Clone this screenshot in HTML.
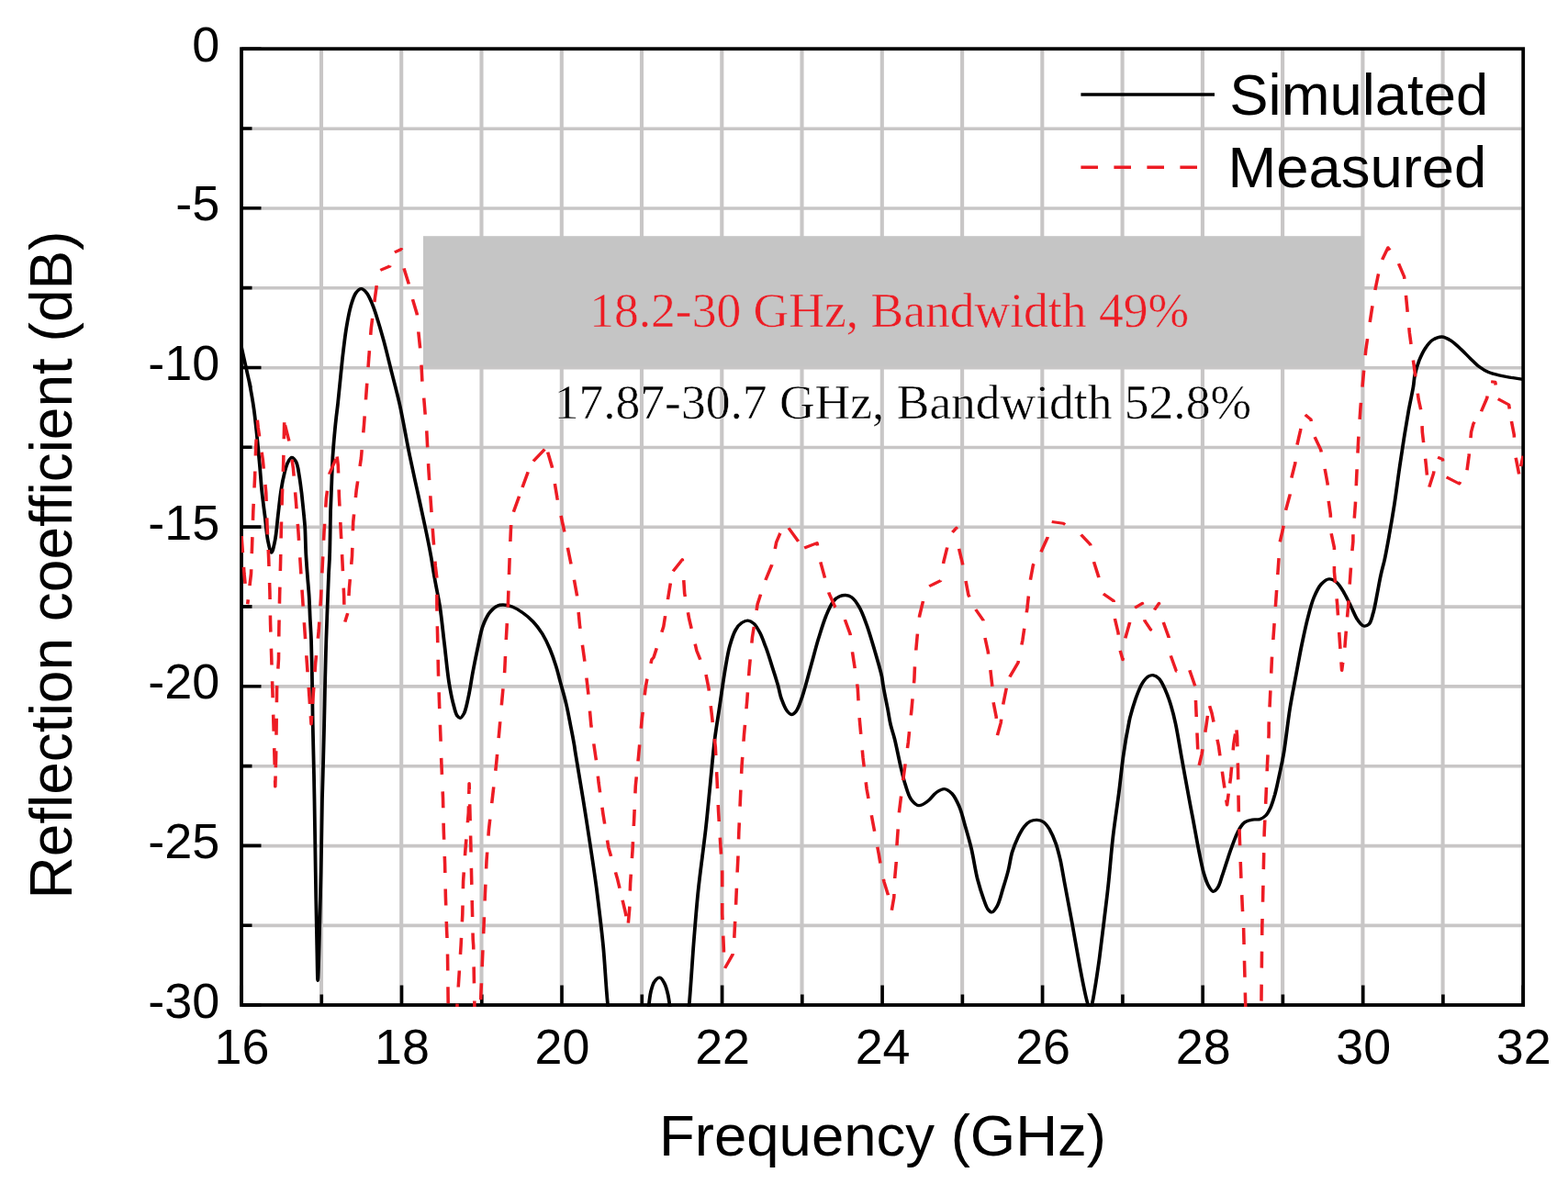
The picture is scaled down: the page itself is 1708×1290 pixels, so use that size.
<!DOCTYPE html>
<html lang="en"><head><meta charset="utf-8"><title>Reflection coefficient</title>
<style>html,body{margin:0;padding:0;background:#fff}body{width:1708px;height:1290px;overflow:hidden}svg{display:block}.s{font-family:"Liberation Sans",sans-serif;fill:#000}.t{font-family:"Liberation Serif",serif}</style></head><body>
<svg width="1708" height="1290" viewBox="0 0 1708 1290">
<rect width="1708" height="1290" fill="#fff"/>
<defs><clipPath id="c"><rect x="263.0" y="53.2" width="1396.2" height="1043.8"/></clipPath></defs>
<path d="M350.0 53.2 V1095.0M437.2 53.2 V1095.0M524.5 53.2 V1095.0M611.8 53.2 V1095.0M699.0 53.2 V1095.0M786.3 53.2 V1095.0M873.5 53.2 V1095.0M960.8 53.2 V1095.0M1048.1 53.2 V1095.0M1135.3 53.2 V1095.0M1222.6 53.2 V1095.0M1309.9 53.2 V1095.0M1397.1 53.2 V1095.0M1484.4 53.2 V1095.0M1571.6 53.2 V1095.0" stroke="#c8c6c6" stroke-width="4.1" fill="none"/>
<path d="M263.0 140.2 H1659.2M263.0 227.0 H1659.2M263.0 313.8 H1659.2M263.0 400.7 H1659.2M263.0 487.5 H1659.2M263.0 574.3 H1659.2M263.0 661.1 H1659.2M263.0 747.9 H1659.2M263.0 834.8 H1659.2M263.0 921.6 H1659.2M263.0 1008.4 H1659.2" stroke="#c8c6c6" stroke-width="3.6" fill="none"/>
<rect x="461" y="257.2" width="1024.6" height="142.0" fill="#c5c5c5"/>
<text class="t" x="968.6" y="356" font-size="53.55" text-anchor="middle" fill="#ed1c24" stroke="#c5c5c5" stroke-width="0.5" paint-order="fill stroke">18.2-30 GHz, Bandwidth 49%</text>
<text class="t" x="983.4" y="455.8" font-size="53.5" text-anchor="middle" fill="#000" stroke="#fff" stroke-width="0.5" paint-order="fill stroke">17.87-30.7 GHz, Bandwidth 52.8%</text>
<path d="M263.0 1095.0 v-21.5M350.3 1095.0 v-11.5M437.5 1095.0 v-21.5M524.8 1095.0 v-11.5M612.0 1095.0 v-21.5M699.3 1095.0 v-11.5M786.6 1095.0 v-21.5M873.8 1095.0 v-11.5M961.1 1095.0 v-21.5M1048.4 1095.0 v-11.5M1135.6 1095.0 v-21.5M1222.9 1095.0 v-11.5M1310.2 1095.0 v-21.5M1397.4 1095.0 v-11.5M1484.7 1095.0 v-21.5M1571.9 1095.0 v-11.5M1659.2 1095.0 v-21.5M263.0 53.2 h21.5M263.0 140.0 h11.5M263.0 226.8 h21.5M263.0 313.6 h11.5M263.0 400.5 h21.5M263.0 487.3 h11.5M263.0 574.1 h21.5M263.0 660.9 h11.5M263.0 747.7 h21.5M263.0 834.6 h11.5M263.0 921.4 h21.5M263.0 1008.2 h11.5M263.0 1095.0 h21.5" stroke="#000" stroke-width="3.6" fill="none"/>
<rect x="263.0" y="53.2" width="1396.2" height="1041.8" fill="none" stroke="#000" stroke-width="3.8"/>
<g clip-path="url(#c)"><g fill="none" stroke-linejoin="round" transform="scale(1.150 1)">
<path d="M228.7 378.0C243.8 455.9 234.0 403.9 236.0 415.7C237.8 426.1 239.3 435.7 240.4 445.0C241.5 453.5 242.0 460.4 242.9 469.3C243.9 480.2 245.0 494.3 245.9 505.6C246.7 515.6 247.1 524.2 247.9 533.7C248.8 543.4 249.9 553.4 251.0 563.0C251.9 572.2 252.6 582.8 253.9 590.0C254.8 594.9 256.1 602.2 257.1 602.2C258.2 602.2 259.4 594.9 260.3 590.0C261.7 582.8 262.3 572.2 263.2 563.0C264.2 553.4 265.1 542.2 266.3 533.7C267.2 527.1 268.1 521.5 269.3 516.1C270.3 511.4 271.3 506.3 272.9 503.2C273.9 501.1 275.2 498.5 276.4 498.5C277.7 498.5 279.4 501.0 280.5 503.2C282.3 506.9 282.7 514.0 283.6 519.6C284.4 525.3 285.0 531.1 285.7 537.2C286.3 543.6 286.9 550.7 287.5 557.1C288.0 563.1 288.5 568.1 288.9 574.7C289.3 583.1 289.4 594.3 289.8 603.4C290.2 611.6 290.7 619.0 291.2 626.8C291.7 634.6 292.4 642.5 292.8 650.3C293.2 658.1 293.4 665.9 293.7 673.7C294.1 681.5 294.5 688.6 294.8 697.1C295.1 707.1 295.3 717.4 295.5 730.0C295.8 747.0 296.0 768.6 296.3 790.0C296.8 814.8 297.4 843.3 297.8 870.0C298.2 896.7 298.5 923.3 298.9 950.0C299.3 976.7 299.7 1008.2 300.2 1030.0C300.5 1045.1 300.7 1068.3 301.0 1068.3C301.4 1068.3 301.9 1045.1 302.3 1030.0C302.8 1008.2 303.5 976.7 304.0 950.0C304.5 923.3 304.8 892.9 305.2 870.0C305.6 852.9 306.0 841.0 306.3 825.0C306.8 806.9 307.1 784.2 307.5 767.0C307.7 753.3 307.9 742.0 308.2 730.0C308.4 718.7 308.7 708.2 309.0 697.0C309.4 685.5 309.7 673.7 310.1 662.0C310.5 650.3 310.9 637.3 311.3 626.8C311.6 618.2 312.1 612.5 312.3 603.4C312.7 590.6 312.8 570.7 313.1 557.0C313.4 546.1 313.8 537.5 314.1 527.8C314.4 518.0 314.7 507.7 315.1 498.5C315.6 490.3 316.1 482.3 316.7 475.1C317.2 468.8 317.6 463.4 318.2 457.6C318.7 451.7 319.3 447.3 320.0 440.0C321.2 427.8 322.9 405.8 324.3 391.1C325.5 379.1 326.5 368.5 327.9 358.4C329.2 349.6 330.4 340.9 332.2 333.8C333.6 328.2 335.0 322.3 337.2 319.0C338.6 316.8 340.5 314.6 342.2 314.6C343.8 314.6 345.7 316.9 347.2 319.0C349.4 322.0 351.1 327.2 352.9 332.1C355.0 337.9 356.8 345.0 358.6 351.8C360.6 359.1 362.3 366.4 364.3 374.8C366.6 384.7 369.0 396.6 371.4 407.5C373.8 418.4 376.1 427.8 378.5 440.3C381.7 456.6 385.1 480.0 388.2 497.0C390.7 510.9 392.9 522.2 395.3 534.8C397.7 547.4 400.2 560.4 402.4 572.5C404.5 583.8 406.5 595.0 408.1 605.2C409.5 614.0 410.3 621.3 411.7 630.0C413.1 639.8 415.2 649.9 416.7 661.0C418.4 673.7 419.5 688.3 421.0 702.0C422.4 715.7 423.6 731.1 425.2 743.0C426.5 752.2 427.9 760.8 429.5 767.5C430.6 772.3 431.5 777.4 433.0 779.8C433.9 781.1 435.0 782.4 435.9 782.3C437.1 782.2 438.4 779.7 439.5 777.4C441.3 773.4 442.4 766.0 443.7 759.3C445.3 751.1 446.5 740.5 448.0 731.5C449.4 723.0 450.8 715.1 452.3 706.9C453.9 698.7 455.1 689.4 457.3 682.3C459.1 676.6 461.1 671.4 463.7 667.5C465.8 664.4 468.4 661.5 470.9 660.2C472.7 659.2 474.4 659.0 476.5 659.0C479.1 659.0 482.3 659.8 485.1 661.0C488.4 662.4 491.9 664.9 495.0 667.5C498.5 670.3 502.0 673.7 505.0 677.4C508.2 681.3 511.1 685.8 513.7 690.5C516.4 695.6 518.7 701.2 520.8 706.9C522.9 712.7 524.8 718.9 526.4 724.9C528.1 730.9 529.2 736.5 530.7 743.0C532.5 750.5 534.8 759.3 536.4 767.5C538.1 775.7 539.4 784.4 540.7 792.1C541.9 798.9 543.1 806.2 543.9 811.4C544.4 814.8 544.4 816.0 545.0 820.0C546.3 829.7 549.7 852.5 552.1 869.2C554.5 886.4 557.0 904.7 559.2 921.6C561.3 937.4 563.1 951.0 565.0 967.5C567.1 986.7 569.5 1008.9 571.3 1030.0C573.1 1051.4 573.7 1071.9 575.7 1095.0C577.9 1121.5 578.9 1161.8 584.3 1180.0C587.2 1189.3 591.3 1200.0 594.8 1200.0C598.3 1200.0 602.3 1189.6 605.2 1180.0C611.4 1159.8 612.9 1097.5 616.4 1080.8C617.7 1075.0 618.2 1072.0 620.0 1069.3C621.3 1067.3 623.5 1065.0 625.0 1065.2C626.5 1065.4 628.0 1068.5 629.2 1071.0C630.8 1074.4 631.6 1078.0 632.8 1084.1C635.3 1097.6 637.8 1134.4 640.0 1150.0C641.2 1158.6 642.2 1170.0 643.5 1170.0C644.8 1170.0 646.5 1158.4 647.8 1150.0C649.9 1136.2 651.3 1114.1 652.8 1094.8C654.4 1073.7 655.6 1049.7 657.0 1028.4C658.4 1008.6 659.7 988.5 661.3 971.0C662.6 956.2 664.3 942.1 665.6 930.0C666.6 920.3 667.4 914.0 668.4 903.9C669.8 890.1 671.3 871.2 672.7 854.8C674.1 838.4 675.4 820.3 677.0 805.6C678.3 793.5 679.7 784.6 681.2 772.8C683.0 759.1 685.1 741.1 687.0 728.5C688.4 719.1 689.4 711.4 691.2 703.9C692.8 697.4 694.6 690.4 697.0 685.9C698.6 682.7 700.5 680.1 702.6 678.5C704.4 677.2 706.5 676.0 708.3 676.1C710.3 676.2 712.3 677.6 714.0 679.3C716.2 681.5 718.0 685.4 719.7 689.2C721.9 693.9 723.6 699.9 725.5 705.6C727.5 711.8 729.3 718.5 731.1 725.2C733.1 732.2 735.3 740.3 736.9 746.6C738.1 751.5 738.4 755.3 739.7 759.7C741.2 764.5 743.2 771.2 745.4 774.4C746.7 776.4 748.2 778.4 749.7 778.5C751.0 778.6 752.6 777.0 753.9 775.2C756.2 772.1 757.7 766.0 759.7 759.7C762.5 750.5 765.5 736.3 768.2 725.2C770.7 715.0 772.8 705.1 775.3 695.7C777.6 687.1 779.8 678.4 782.4 671.1C784.6 665.0 786.9 658.5 789.6 654.8C791.3 652.4 793.3 650.8 795.3 649.8C797.1 648.9 799.1 648.4 801.0 648.5C802.9 648.6 804.9 649.3 806.7 650.7C809.3 652.8 811.7 657.1 813.8 661.3C816.6 666.7 818.7 673.9 821.0 681.0C823.5 689.1 825.8 698.2 828.1 707.2C830.5 716.7 833.8 729.3 835.2 736.7C836.0 741.1 836.0 743.1 836.6 747.4C837.6 754.0 839.6 765.2 840.9 772.8C841.9 778.9 842.4 783.8 843.5 789.2C844.6 794.7 846.1 799.3 847.5 805.6C849.3 814.0 851.3 826.3 853.1 835.1C854.6 842.3 855.7 848.6 857.5 854.8C859.1 860.5 860.5 867.1 863.1 871.1C865.1 874.1 867.7 877.4 870.3 877.7C872.9 878.0 876.2 875.0 878.9 872.8C881.9 870.3 884.4 865.2 887.4 863.0C889.7 861.3 892.2 859.5 894.5 859.7C897.0 859.9 899.5 862.2 901.7 864.6C904.5 868.0 906.8 873.8 908.8 879.3C911.1 885.7 912.6 893.3 914.4 900.7C916.4 908.6 918.4 916.4 920.2 925.2C922.2 935.3 923.8 948.2 925.9 957.9C927.7 965.8 929.7 973.2 931.6 979.2C933.0 983.7 934.1 988.2 935.8 990.7C936.9 992.3 938.2 994.0 939.4 993.9C941.0 993.8 942.9 990.3 944.4 987.4C946.8 982.8 948.3 974.3 950.1 967.7C951.9 961.2 953.7 954.6 955.1 948.0C956.5 941.5 957.1 934.7 958.7 928.5C960.2 922.7 962.3 917.0 964.3 912.1C966.1 907.9 967.9 903.7 970.1 900.7C971.8 898.3 973.6 896.1 975.7 894.9C977.7 893.8 980.0 893.2 982.2 893.3C984.3 893.4 986.7 894.2 988.6 895.7C990.9 897.5 992.5 900.6 994.3 903.9C996.4 908.0 998.4 913.5 1000.0 918.7C1001.8 924.3 1002.9 930.1 1004.3 936.7C1005.8 944.6 1006.9 953.0 1008.5 962.8C1010.6 975.6 1013.3 992.1 1015.7 1007.0C1018.1 1022.2 1020.5 1039.0 1022.8 1053.0C1024.7 1064.8 1027.0 1078.2 1028.5 1085.7C1029.3 1089.7 1029.9 1092.1 1030.6 1094.8C1031.2 1096.9 1031.8 1100.5 1032.3 1100.5C1032.9 1100.5 1033.6 1097.2 1034.2 1094.8C1035.2 1090.6 1036.1 1084.2 1037.0 1077.5C1038.4 1068.3 1039.9 1056.3 1041.3 1044.8C1042.8 1031.9 1044.2 1017.5 1045.7 1003.8C1047.1 990.1 1048.6 977.2 1049.9 962.8C1051.4 946.8 1052.5 928.9 1054.2 912.1C1055.8 895.6 1058.2 878.6 1059.9 863.0C1061.5 848.7 1062.5 835.2 1064.2 822.0C1065.7 809.6 1068.4 792.7 1069.6 785.9C1070.0 783.2 1070.1 782.8 1070.7 780.3C1071.8 775.5 1074.4 765.4 1076.4 759.0C1078.2 753.6 1079.9 748.2 1082.1 744.3C1083.8 741.3 1085.8 738.2 1087.8 736.9C1089.2 736.0 1090.6 735.5 1092.1 735.7C1093.9 736.0 1096.1 737.4 1097.8 739.3C1100.1 741.9 1101.7 746.5 1103.5 750.8C1105.6 756.1 1107.6 762.7 1109.2 768.9C1110.9 775.3 1112.1 781.0 1113.5 788.5C1115.4 798.7 1117.4 813.3 1119.1 824.6C1120.7 834.5 1122.0 843.3 1123.5 852.5C1124.9 861.4 1126.3 870.0 1127.7 878.7C1129.2 887.4 1130.6 896.2 1132.0 904.9C1133.4 913.6 1134.8 922.8 1136.3 931.1C1137.6 938.6 1138.9 946.3 1140.5 952.5C1141.8 957.4 1143.1 962.2 1144.9 965.6C1146.1 968.0 1147.6 971.2 1149.1 971.3C1150.5 971.4 1152.2 969.2 1153.4 967.2C1155.3 964.2 1156.3 958.6 1157.7 954.1C1159.1 949.3 1160.5 944.2 1161.9 939.3C1163.3 934.4 1164.7 929.3 1166.2 924.6C1167.6 920.1 1169.0 915.5 1170.5 911.5C1171.9 907.9 1173.2 904.4 1174.8 901.6C1176.1 899.3 1177.2 897.3 1179.0 895.9C1181.0 894.4 1183.8 893.6 1186.2 893.1C1188.5 892.6 1191.2 893.4 1193.3 892.6C1195.4 891.8 1197.4 890.3 1199.0 888.5C1200.9 886.4 1202.0 883.5 1203.3 880.3C1205.0 876.2 1206.2 871.0 1207.6 865.6C1209.1 859.2 1210.5 851.7 1211.8 844.3C1213.3 836.4 1214.7 829.3 1216.1 819.7C1218.0 806.4 1219.8 786.8 1221.8 772.1C1223.6 759.2 1225.6 748.0 1227.5 736.1C1229.4 724.5 1231.2 712.6 1233.2 701.6C1235.1 691.4 1236.9 681.1 1239.0 672.1C1240.7 664.4 1242.3 657.1 1244.6 650.8C1246.6 645.3 1248.9 639.6 1251.7 636.1C1253.9 633.5 1256.4 631.0 1258.9 630.8C1261.2 630.6 1263.9 632.4 1266.0 634.4C1268.8 636.9 1270.9 641.6 1273.1 645.9C1275.7 650.8 1278.0 657.1 1280.3 662.3C1282.3 666.9 1283.8 671.9 1286.0 675.4C1287.7 678.1 1289.6 681.5 1291.7 682.0C1293.2 682.4 1295.3 681.6 1296.6 680.2C1298.8 677.9 1299.6 671.9 1300.9 667.0C1302.3 661.2 1303.3 654.1 1304.4 647.4C1305.6 640.5 1306.7 632.7 1308.0 626.1C1309.1 620.3 1310.3 615.9 1311.5 609.7C1313.0 601.6 1314.6 591.2 1316.1 581.6C1317.7 571.4 1319.2 561.0 1320.7 550.0C1322.3 538.2 1323.7 525.2 1325.2 513.1C1326.7 501.3 1328.2 489.4 1329.8 478.0C1331.3 467.2 1332.9 456.2 1334.4 446.3C1335.8 437.5 1337.7 428.2 1338.7 421.3C1339.4 416.5 1339.3 413.3 1340.1 408.9C1341.0 403.8 1342.6 397.6 1344.3 392.5C1346.0 387.8 1347.8 383.2 1350.1 379.3C1352.1 375.9 1354.4 372.4 1357.2 370.3C1359.7 368.5 1362.9 366.9 1365.7 367.0C1368.6 367.1 1371.5 369.1 1374.3 371.1C1377.7 373.5 1381.1 377.7 1384.3 381.0C1387.3 384.2 1390.0 387.6 1392.9 390.8C1395.7 393.9 1398.4 397.3 1401.4 399.8C1404.1 402.1 1406.8 404.1 1409.9 405.6C1413.0 407.1 1416.4 408.0 1419.9 408.9C1423.6 409.9 1427.5 410.5 1431.3 411.3C1435.1 412.0 1429.8 411.0 1442.7 413.4" stroke="#000" stroke-width="3.3"/>
<path d="M228.70 583.0L231.30 625.0L234.35 660.0L237.83 625.0L238.78 594.0L239.83 557.0L241.30 522.0L242.35 487.0L243.65 456.4L244.52 466.0L248.96 501.0L252.00 537.0L253.04 572.0L254.52 609.0L255.57 644.0L256.17 680.0L257.13 715.0L258.09 750.0L259.13 790.0L260.00 825.0L260.70 857.0L261.39 825.0L261.83 790.0L262.26 750.0L263.91 718.0L264.26 684.0L264.87 650.0L265.74 612.0L266.35 576.0L267.22 542.0L268.43 505.0L269.30 460.0L273.91 481.0L277.74 510.0L280.26 545.0L282.61 580.0L284.61 616.0L286.61 652.0L288.70 688.0L290.70 722.0L293.04 760.0L294.78 789.0L296.52 760.0L298.87 722.0L301.91 687.0L303.91 652.0L305.48 615.0L306.96 580.0L309.04 543.0L312.09 516.0L318.17 500.0L319.22 497.4L320.26 507.0L321.22 541.0L322.78 577.0L324.35 613.0L325.83 650.0L326.26 679.5L329.39 667.8L330.87 640.0L333.48 606.0L334.52 569.0L337.57 534.0L342.09 499.0L344.78 463.0L347.22 423.9L349.30 391.1L351.48 358.4L355.04 325.6L358.61 295.2L369.30 290.0L373.13 275.2L380.26 271.5L382.09 290.3L387.13 309.2L390.70 325.6L394.96 342.0L396.35 361.6L397.83 378.0L399.22 399.3L399.91 415.7L401.39 432.1L402.78 451.8L404.17 470.0L406.00 511.8L408.09 547.9L410.26 583.9L412.43 616.7L413.83 630.0L413.83 661.0L414.52 697.0L415.22 734.8L416.26 770.8L417.39 805.2L418.09 830.0L419.57 869.2L420.26 905.2L421.39 941.3L422.09 977.4L423.13 1013.4L423.83 1030.0L424.52 1095.0L426.96 1200.0L430.43 1200.0L433.04 1095.0L436.61 1030.0L438.09 996.2L438.78 960.2L440.87 924.9L443.74 885.6L444.43 853.6L445.91 918.4L446.61 954.4L447.30 988.9L448.00 1023.3L448.43 1030.0L449.48 1095.0L450.87 1200.0L453.48 1200.0L455.13 1095.0L458.00 1016.7L459.48 974.1L460.87 938.0L463.04 903.6L466.61 867.5L470.17 831.5L472.26 805.2L475.13 767.5L478.00 731.5L479.39 697.0L481.13 661.0L482.26 623.3L482.96 600.3L484.35 564.3L502.96 505.2L516.43 488.9L517.91 488.9L522.87 508.5L527.83 543.0L534.26 577.4L540.70 613.4L543.57 630.0L546.43 647.9L549.22 682.3L553.57 718.4L557.13 754.4L559.91 790.5L564.26 824.9L564.96 830.0L567.04 852.8L571.30 887.2L576.35 923.3L584.87 957.7L592.00 992.1L594.87 1008.5L596.26 990.5L597.04 962.6L599.13 926.6L600.61 892.1L602.00 856.1L604.87 823.3L607.83 785.9L611.39 749.8L612.87 740.0L617.39 718.4L619.22 716.2L628.52 682.6L633.48 646.6L636.78 623.6L646.35 609.7L648.43 646.6L652.78 674.4L659.91 708.9L668.43 733.4L671.30 750.0L674.09 777.7L677.65 813.8L679.13 848.2L680.52 884.3L682.43 920.3L684.09 950.0L684.09 995.6L685.57 1034.9L685.57 1057.0L694.09 1039.8L695.48 1021.8L696.96 987.4L698.35 951.3L699.04 934.9L699.83 907.2L701.22 871.1L702.61 835.1L704.78 800.7L707.65 763.0L709.04 740.0L709.74 728.5L712.61 694.1L717.57 658.0L724.00 635.1L731.13 615.4L735.39 590.8L738.96 581.0L745.39 572.8L761.04 597.4L773.91 591.6L776.78 610.5L781.04 628.5L785.30 646.6L791.04 661.3L799.57 672.8L805.30 690.8L807.39 710.5L809.57 726.9L812.43 750.0L813.83 779.3L817.39 825.2L820.96 859.7L826.70 895.7L832.35 930.2L835.22 950.0L837.48 961.1L841.04 974.3L844.35 993.9L846.78 977.5L847.48 957.9L848.87 939.8L849.57 920.3L851.74 884.3L856.00 844.9L860.26 808.9L863.48 772.8L866.00 740.0L866.70 720.3L868.87 692.5L870.96 671.1L877.39 640.3L890.96 632.6L893.83 612.1L900.17 582.6L905.91 575.2L908.09 596.6L911.65 613.8L917.30 648.2L923.04 662.1L931.30 675.7L932.70 693.3L935.83 709.7L938.00 728.5L940.09 750.0L940.87 764.6L943.65 781.0L944.43 802.3L948.00 787.5L950.09 767.9L952.96 751.5L955.13 740.0L964.35 722.0L968.61 697.4L972.96 663.0L975.74 633.4L978.61 615.4L985.04 603.9L992.17 585.9L995.04 568.2L1007.13 570.3L1022.78 581.0L1032.78 593.3L1035.65 610.5L1040.61 628.5L1043.48 645.7L1054.87 654.8L1055.57 672.0L1059.13 689.2L1060.61 707.2L1063.48 718.7L1063.57 718.0L1065.74 695.9L1070.00 678.7L1073.57 663.1L1082.09 657.4L1084.26 676.2L1089.91 686.1L1092.78 665.6L1097.83 657.4L1101.39 676.2L1107.04 694.3L1108.52 713.1L1114.17 731.1L1125.57 726.2L1132.00 747.5L1133.57 790.0L1135.30 836.3L1138.26 822.0L1142.52 790.9L1145.30 767.5L1147.83 777.0L1154.26 812.5L1158.52 847.6L1162.26 877.0L1165.74 846.7L1168.52 810.6L1171.04 792.8L1171.83 802.2L1172.61 838.2L1173.30 883.6L1174.35 918.0L1175.48 954.1L1176.87 990.2L1177.91 1010.0L1179.74 1095.0L1182.61 1200.0L1191.30 1200.0L1194.70 1095.0L1195.48 1010.0L1196.17 980.3L1196.87 944.3L1197.57 906.6L1199.04 870.5L1200.43 832.8L1201.83 800.0L1201.83 790.2L1203.30 754.1L1204.70 718.0L1206.87 682.0L1208.96 647.5L1211.13 611.5L1211.83 600.0L1211.83 593.3L1215.39 575.2L1217.57 557.2L1221.83 539.2L1223.22 521.1L1226.78 504.8L1228.26 486.7L1231.83 468.7L1234.61 450.3L1241.74 457.2L1244.61 474.4L1251.04 490.0L1254.61 508.9L1257.48 526.9L1258.17 543.3L1260.26 560.5L1260.61 579.3L1263.83 596.6L1263.83 610.0L1263.83 622.8L1266.70 658.9L1268.78 694.9L1270.96 730.5L1273.83 704.8L1275.91 675.2L1277.39 655.6L1278.78 631.0L1280.26 606.4L1281.65 590.0L1281.65 583.4L1283.83 549.0L1285.22 513.0L1286.70 478.5L1288.78 442.5L1291.65 406.4L1293.04 390.0L1293.74 381.0L1297.30 353.1L1299.48 336.7L1302.35 317.0L1305.22 300.7L1308.70 284.3L1314.70 269.8L1323.74 284.3L1330.09 301.5L1332.26 328.5L1335.13 363.0L1339.39 399.0L1343.65 435.1L1346.52 450.0L1347.22 470.5L1350.78 506.6L1352.96 533.6L1357.91 515.6L1360.09 497.5L1366.43 500.3L1368.61 518.9L1382.17 527.0L1389.30 514.8L1391.39 496.7L1393.57 470.5L1395.65 461.5L1402.09 450.8L1408.52 433.6L1410.70 415.6L1416.35 416.4L1418.52 434.4L1429.22 441.0L1431.30 456.6L1434.17 473.8L1434.87 493.4L1438.87 516.7L1442.70 496.7" stroke="#ed1c24" stroke-width="3.1" stroke-dasharray="0.0 1.1 18.0 15.8 18.0 26.1 5.0 15.1 18.0 17.2 18.0 18.2 18.0 17.4 18.0 17.1 18.0 23.3 18.0 17.4 18.0 17.4 18.0 18.4 18.0 16.7 18.0 18.0 18.0 17.6 18.0 18.0 18.0 17.6 18.0 18.5 18.0 18.5 18.0 17.4 18.0 9.2 18.0 17.6 18.0 17.5 18.0 18.5 18.0 17.3 18.0 17.8 18.0 17.6 18.0 17.6 18.0 18.0 18.0 18.6 18.0 17.6 18.0 3.4 17.9 20.4 18.0 17.7 18.0 16.7 18.0 18.6 18.0 17.2 18.0 17.7 18.0 18.1 18.0 16.8 18.0 13.2 18.0 13.1 18.0 16.8 18.0 18.6 18.0 17.2 18.0 18.1 18.0 17.7 18.0 18.1 18.0 18.2 17.7 3.0 18.0 18.1 18.0 17.5 18.0 17.2 18.0 18.5 18.0 22.8 9.9 19.0 18.0 16.3 18.0 18.6 18.0 18.2 18.0 16.5 18.0 18.7 18.0 18.0 18.0 17.5 18.0 17.3 18.0 18.0 18.0 17.9 10.7 15.4 8.0 20.2 17.8 17.1 17.8 18.1 18.0 18.3 18.0 18.1 18.0 17.8 18.0 17.7 18.0 17.2 18.0 17.6 18.0 18.0 18.0 18.1 18.0 16.5 18.0 18.5 18.0 17.5 18.0 17.6 18.0 18.1 18.0 18.5 18.0 16.5 18.0 18.2 18.0 17.5 18.0 17.5 18.0 17.6 18.0 17.7 18.0 18.2 18.0 18.2 18.0 18.2 17.8 17.8 18.0 18.2 18.0 18.2 18.0 18.2 18.0 17.7 18.0 17.5 18.0 18.1 18.0 18.1 18.0 18.1 18.0 13.2 18.0 16.2 18.0 16.2 18.0 17.4 18.0 17.2 18.0 17.4 18.0 18.9 18.0 19.2 18.0 19.2 18.0 19.2 18.0 19.0 17.8 19.2 18.0 19.2 18.0 19.2 18.0 18.1 18.0 18.0 18.0 17.7 18.0 17.1 18.0 18.0 18.0 17.5 18.0 17.6 18.0 17.7 18.0 17.9 18.0 17.5 18.0 18.0 18.0 17.5 18.0 17.6 18.0 18.0 18.0 14.7 17.7 10.2 17.7 12.9 16.9 6.0 17.8 17.4 17.9 17.4 17.9 17.6 17.9 17.6 17.9 17.6 18.0 17.9 18.0 18.1 18.0 18.2 18.0 17.9 18.0 17.4 18.0 16.5 18.0 18.0 17.9 17.8 17.9 13.3 17.9 13.3 18.0 17.0 18.0 17.5 18.0 17.2 18.0 17.6 18.0 17.2 18.0 17.7 18.0 18.5 18.0 17.1 17.7 18.2 17.9 18.2 17.9 13.3 17.2 20.8 18.0 17.4 17.9 17.1 17.8 17.2 17.9 16.5 18.0 18.1 18.0 18.2 18.0 17.9 18.0 17.6 18.0 17.8 18.0 17.8 18.0 17.5 18.0 21.8 17.5 17.3 18.0 18.1 18.0 17.3 18.0 18.2 18.0 17.8 18.0 17.7 18.0 17.2 18.0 17.6 18.0 18.1 18.0 17.6 18.0 18.0 17.9 16.3 17.7 17.6 17.8 13.3 17.2 9.9 16.2 18.0 17.8 16.1 17.7 16.2 17.7 18.3 18.0 17.4 18.0 18.7 18.0 17.5 18.0 17.0 17.9 18.4 17.9 17.2 17.9 17.7 17.8 21.2 17.9 17.0 18.0 17.8 18.0 17.9 18.0 17.4 18.0 17.4 18.0 17.8 18.0 17.2 18.0 17.9 18.0 18.1 17.9 18.2 12.6 18.6 17.9 17.4 7.6 21.4 17.9 17.8 17.9 14.7 14.4 18.7 17.9 17.5 18.0 17.3 17.9 20.7 17.9 16.3 17.9 12.8 19.4 17.8 17.9 17.5 18.0 17.9 17.9 14.5 17.6 18.2 13.2 18.7 15.1 18.0 17.8 18.7 13.7 18.0 17.9 17.5 11.9 21.7 17.8 16.9 10.0 16.6 13.6 20.8 9.6 19.8 17.7 19.5 17.8 16.4 17.8 15.7 18.0 17.5 18.0 22.3 17.9 18.7 18.0 14.2 17.9 19.4 17.9 17.4 18.0 13.0 18.0 11.3 18.0 18.2 18.0 9.4 18.0 18.0 18.0 17.1 18.0 18.8 18.0 17.7 18.0 18.2 18.0 18.0 18.0 17.6 18.0 16.8 18.0 16.0 18.0 16.0 18.0 16.0 18.0 14.7 18.0 16.0 18.0 16.0 18.0 16.0 18.0 18.0 18.0 17.6 18.0 18.2 18.0 17.7 18.0 17.6 18.0 17.7 18.0 17.6 18.0 18.0 18.0 16.0 18.0 18.7 18.0 18.7 18.0 18.1 18.0 16.9 18.0 17.9 17.9 17.1 17.9 17.9 17.9 18.5 17.9 19.3 9.3 17.6 17.6 18.6 17.9 17.3 18.0 17.6 17.9 18.1 18.0 17.4 18.0 18.6 18.0 14.5 18.0 16.2 18.0 15.4 18.0 17.8 18.0 18.5 18.0 17.7 18.0 17.4 18.0 17.6 18.0 18.8 18.0 17.4 18.0 16.7 18.0 18.3 17.9 17.5 17.9 15.8 17.6 16.8 17.7 18.0 18.0 17.3 18.0 17.6 18.0 18.4 17.9 18.0 18.0 17.7 18.0 19.1 17.8 17.9 7.2 18.3 16.3 14.4 18.0 17.3 17.9 13.3 17.7 17.6 7.2 15.5 16.6 13.6 17.9 22.3 17.9 9.0 11.9 52.6" stroke-linejoin="round"/>
</g></g>
<path d="M1177.4 103H1323" stroke="#000" stroke-width="3.6"/>
<path d="M1177.4 182.3H1306" stroke="#ed1c24" stroke-width="3.6" stroke-dasharray="18.6 17.4" fill="none"/>
<text class="s" x="1339.3" y="125.4" font-size="63.4">Simulated</text>
<text class="s" x="1337.4" y="203.6" font-size="63.4">Measured</text>
<text class="s" x="263.5" y="1158.8" font-size="53.8" text-anchor="middle">16</text>
<text class="s" x="438.0" y="1158.8" font-size="53.8" text-anchor="middle">18</text>
<text class="s" x="612.5" y="1158.8" font-size="53.8" text-anchor="middle">20</text>
<text class="s" x="787.1" y="1158.8" font-size="53.8" text-anchor="middle">22</text>
<text class="s" x="961.6" y="1158.8" font-size="53.8" text-anchor="middle">24</text>
<text class="s" x="1136.1" y="1158.8" font-size="53.8" text-anchor="middle">26</text>
<text class="s" x="1310.7" y="1158.8" font-size="53.8" text-anchor="middle">28</text>
<text class="s" x="1485.2" y="1158.8" font-size="53.8" text-anchor="middle">30</text>
<text class="s" x="1659.7" y="1158.8" font-size="53.8" text-anchor="middle">32</text>
<text class="s" x="239.3" y="66.7" font-size="54" text-anchor="end">0</text>
<text class="s" x="239.3" y="240.3" font-size="54" text-anchor="end">-5</text>
<text class="s" x="239.3" y="414.0" font-size="54" text-anchor="end">-10</text>
<text class="s" x="239.3" y="587.6" font-size="54" text-anchor="end">-15</text>
<text class="s" x="239.3" y="761.2" font-size="54" text-anchor="end">-20</text>
<text class="s" x="239.3" y="934.9" font-size="54" text-anchor="end">-25</text>
<text class="s" x="239.3" y="1108.5" font-size="54" text-anchor="end">-30</text>
<text class="s" x="961.5" y="1259.3" font-size="63.5" text-anchor="middle">Frequency (GHz)</text>
<text class="s" transform="translate(78.2 615.5) rotate(-90)" font-size="64" text-anchor="middle">Reflection coefficient (dB)</text>
</svg></body></html>
